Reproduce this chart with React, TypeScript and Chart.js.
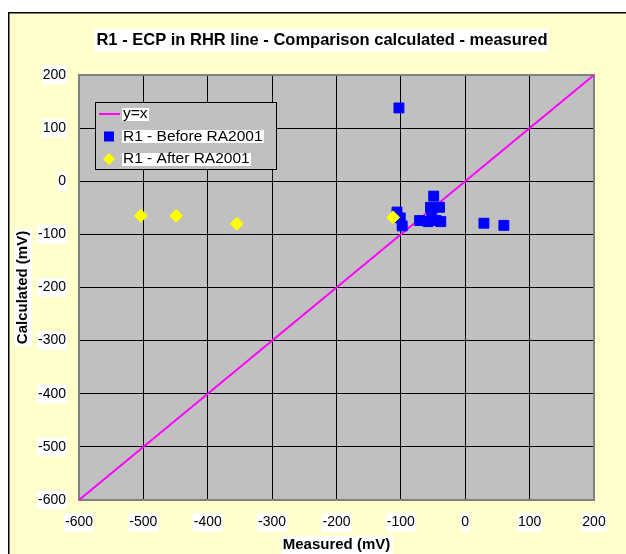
import React, { useEffect, useRef } from "react";
import { Chart, registerables } from "chart.js";

Chart.register(...registerables);

const TITLE = "R1 - ECP in RHR line - Comparison calculated - measured";
const X_TITLE = "Measured (mV)";
const Y_TITLE = "Calculated (mV)";

const xTickValues = [-600, -500, -400, -300, -200, -100, 0, 100, 200];
const yTickValues = [-600, -500, -400, -300, -200, -100, 0, 100, 200];

const identityX = [-600, 200];
const identityY = [-600, 200];

const beforeMeasured = [-103, -106, -101, -98, -49, -54, -40, -71, -58, -45, -38, -52, 29, 60];
const beforeCalculated = [138, -58, -69, -84, -28, -49, -49, -74, -76, -74, -76, -62, -79, -83];

const afterMeasured = [-504, -449, -355, -112];
const afterCalculated = [-65, -65, -80, -68];

const FONT = '"Liberation Sans", Arial, sans-serif';

function textWithBg(
  ctx: CanvasRenderingContext2D,
  text: string,
  x: number,
  y: number,
  font: string,
  align: CanvasTextAlign,
  padX = 2,
  padY = 2
) {
  ctx.save();
  ctx.font = font;
  ctx.textAlign = align;
  ctx.textBaseline = "middle";
  const m = ctx.measureText(text);
  const w = m.width;
  const h = (m.actualBoundingBoxAscent || 8) + (m.actualBoundingBoxDescent || 3);
  let left = x;
  if (align === "center") left = x - w / 2;
  else if (align === "right" || align === "end") left = x - w;
  ctx.fillStyle = "#FFFFFF";
  ctx.fillRect(Math.round(left - padX), Math.round(y - h / 2 - padY), Math.round(w + 2 * padX), Math.round(h + 2 * padY));
  ctx.fillStyle = "#000000";
  ctx.fillText(text, x, y);
  ctx.restore();
}

const backgroundPlugin = {
  id: "bgPlugin",
  beforeDraw(chart: any) {
    const ctx = chart.ctx as CanvasRenderingContext2D;
    const { width, height, chartArea } = chart;
    ctx.save();
    ctx.fillStyle = "#FFFFFF";
    ctx.fillRect(0, 0, width, height);
    ctx.fillStyle = "#FFFFCC";
    ctx.fillRect(8, 12, width - 8, height - 12);
    ctx.fillStyle = "#000000";
    ctx.fillRect(8, 12, width - 8, 1.5);
    ctx.fillRect(8, 12, 1.5, height - 12);
    ctx.fillStyle = "#C0C0C0";
    ctx.fillRect(chartArea.left, chartArea.top, chartArea.right - chartArea.left, chartArea.bottom - chartArea.top);
    ctx.restore();
  },
  beforeDatasetsDraw(chart: any) {
    const ctx = chart.ctx as CanvasRenderingContext2D;
    const { chartArea } = chart;
    ctx.save();
    ctx.strokeStyle = "#808080";
    ctx.lineWidth = 2;
    ctx.strokeRect(chartArea.left, chartArea.top, chartArea.right - chartArea.left, chartArea.bottom - chartArea.top);
    ctx.restore();
  },
  afterDraw(chart: any) {
    const ctx = chart.ctx as CanvasRenderingContext2D;
    const { chartArea } = chart;
    // Title
    textWithBg(ctx, TITLE, 322, 40, `bold 16.5px ${FONT}`, "center", 2, 4);
    // X axis title
    textWithBg(ctx, X_TITLE, (chartArea.left + chartArea.right) / 2, 545, `bold 15px ${FONT}`, "center", 2, 2);
    // Y axis title
    ctx.save();
    ctx.translate(23, (chartArea.top + chartArea.bottom) / 2);
    ctx.rotate(-Math.PI / 2);
    textWithBg(ctx, Y_TITLE, 0, 0, `bold 15px ${FONT}`, "center", 2, 2);
    ctx.restore();

    // Legend
    const lx = chartArea.left + 16;
    const ly = chartArea.top + 27;
    const lw = 181;
    const lh = 67;
    ctx.save();
    ctx.fillStyle = "#C0C0C0";
    ctx.fillRect(lx, ly, lw, lh);
    ctx.strokeStyle = "#000000";
    ctx.lineWidth = 1;
    ctx.strokeRect(lx + 0.5, ly + 0.5, lw, lh);
    const datasets = chart.data.datasets;
    datasets.forEach((ds: any, i: number) => {
      const cy = ly + 12 + i * 22.5;
      const mx = lx + 14;
      ctx.save();
      if (ds.type === "line") {
        ctx.strokeStyle = ds.borderColor;
        ctx.lineWidth = 2;
        ctx.beginPath();
        ctx.moveTo(lx + 4, cy);
        ctx.lineTo(lx + 25, cy);
        ctx.stroke();
      } else if (ds.pointStyle === "rect") {
        ctx.fillStyle = ds.backgroundColor;
        ctx.fillRect(mx - 5, cy - 5, 10, 10);
      } else {
        ctx.fillStyle = ds.backgroundColor;
        ctx.beginPath();
        ctx.moveTo(mx, cy - 6);
        ctx.lineTo(mx + 6, cy);
        ctx.lineTo(mx, cy + 6);
        ctx.lineTo(mx - 6, cy);
        ctx.closePath();
        ctx.fill();
      }
      ctx.restore();
      textWithBg(ctx, ds.label, lx + 28, cy, `15.5px ${FONT}`, "left", 1, 1);
    });
    ctx.restore();
  },
};

export default function App() {
  const canvasRef = useRef<HTMLCanvasElement | null>(null);

  useEffect(() => {
    const canvas = canvasRef.current;
    if (!canvas) return;
    const tickFont = { family: FONT, size: 14 };
    const chart = new Chart(canvas, {
      type: "scatter",
      data: {
        datasets: [
          {
            type: "line",
            label: "y=x",
            data: identityX.map((x, i) => ({ x, y: identityY[i] })),
            borderColor: "#FF00FF",
            backgroundColor: "#FF00FF",
            borderWidth: 2,
            pointRadius: 0,
            showLine: true,
            fill: false,
            order: 3,
          } as any,
          {
            label: "R1 - Before RA2001",
            data: beforeMeasured.map((x, i) => ({ x, y: beforeCalculated[i] })),
            pointStyle: "rect",
            pointRadius: 7,
            backgroundColor: "#0000FF",
            borderColor: "#0000FF",
            borderWidth: 1,
            order: 2,
          },
          {
            label: "R1 - After RA2001",
            data: afterMeasured.map((x, i) => ({ x, y: afterCalculated[i] })),
            pointStyle: "rectRot",
            pointRadius: 6.5,
            backgroundColor: "#FFFF00",
            borderColor: "#FFFF00",
            borderWidth: 1,
            order: 1,
          },
        ],
      },
      options: {
        animation: false,
        responsive: false,
        devicePixelRatio: 1,
        layout: { padding: { left: 0, top: 75, right: 32, bottom: 0 } },
        plugins: {
          legend: { display: false },
          tooltip: { enabled: false },
          title: { display: false },
        },
        scales: {
          x: {
            type: "linear",
            min: -600,
            max: 200,
            afterBuildTicks: (s: any) => {
              s.ticks = xTickValues.map((v) => ({ value: v }));
            },
            afterFit: (s: any) => {
              s.height = 54;
            },
            grid: { color: "#000000", lineWidth: 1, drawTicks: false },
            border: { display: false },
            ticks: {
              font: tickFont,
              color: "#000000",
              padding: 14,
              maxRotation: 0,
              autoSkip: false,
              showLabelBackdrop: true,
              backdropColor: "#FFFFFF",
              backdropPadding: 1,
            } as any,
          },
          y: {
            type: "linear",
            min: -600,
            max: 200,
            afterBuildTicks: (s: any) => {
              s.ticks = yTickValues.map((v) => ({ value: v }));
            },
            afterFit: (s: any) => {
              s.width = 79;
            },
            grid: { color: "#000000", lineWidth: 1, drawTicks: false },
            border: { display: false },
            ticks: {
              font: tickFont,
              color: "#000000",
              padding: 13,
              autoSkip: false,
              showLabelBackdrop: true,
              backdropColor: "#FFFFFF",
              backdropPadding: 1,
            } as any,
          },
        },
      },
      plugins: [backgroundPlugin],
    });
    return () => chart.destroy();
  }, []);

  return (
    <div style={{ position: "fixed", left: 0, top: 0, width: 626, height: 554, background: "#FFFFFF" }}>
      <canvas ref={canvasRef} width={626} height={554} style={{ width: 626, height: 554, display: "block" }} />
    </div>
  );
}
